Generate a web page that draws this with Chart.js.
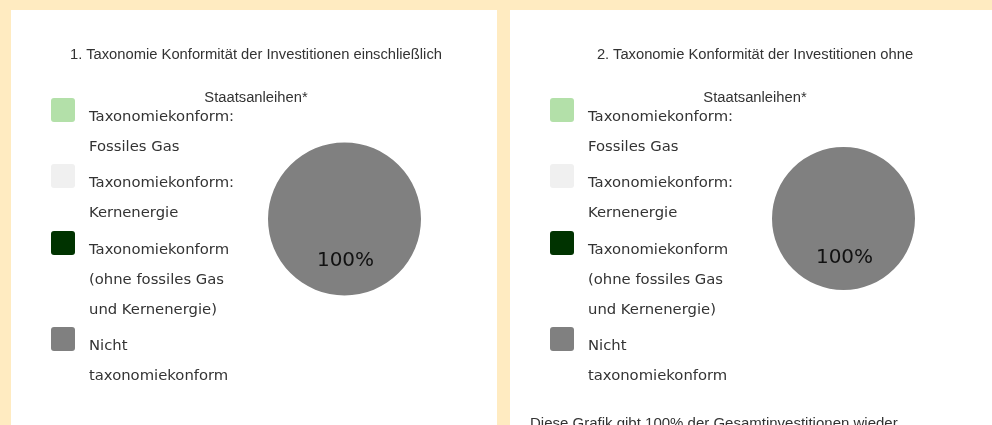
<!DOCTYPE html>
<html>
<head>
<meta charset="utf-8">
<script src="https://cdn.jsdelivr.net/npm/chart.js@4/dist/chart.umd.min.js"></script>
<style>
  html, body { margin: 0; padding: 0; }
  body { width: 992px; height: 425px; overflow: hidden; background: #ffebc1; position: relative; }
  .panel { position: absolute; top: 10px; width: 486px; height: 440px; background: #ffffff; }
  .panel canvas { position: absolute; left: 0; top: 0; }
  .title { position: absolute; left: 2px; top: 23px; width: 100%; text-align: center;
           font: 14.75px "Liberation Sans", Arial, sans-serif; line-height: 43px; color: #333; }
  .legend { position: absolute; left: 40px; top: 88px; font: 14.8px "DejaVu Sans", sans-serif; color: #333; }
  .item { position: relative; padding-left: 38px; padding-top: 3px; margin-bottom: 3.3px; line-height: 30px; }
  .box { position: absolute; left: 0; top: 0; width: 24px; height: 24px; border-radius: 3px; }
  .note { position: absolute; left: 20px; top: 403px; font: 15px "Liberation Sans", Arial, sans-serif;
          line-height: 20px; color: #333; white-space: nowrap; }
</style>
</head>
<body>
<div class="panel" id="p1" style="left:11px;">
  <canvas id="c1" width="486" height="415"></canvas>
  <div class="title" id="t1"></div>
  <div class="legend" id="l1"></div>
</div>
<div class="panel" id="p2" style="left:510px;">
  <canvas id="c2" width="486" height="415"></canvas>
  <div class="title" id="t2"></div>
  <div class="legend" id="l2"></div>
  <div class="note" id="n2"></div>
</div>
<script>
// ---- data ----
const categoryLines = [
  ["Taxonomiekonform:", "Fossiles Gas"],
  ["Taxonomiekonform:", "Kernenergie"],
  ["Taxonomiekonform", "(ohne fossiles Gas", "und Kernenergie)"],
  ["Nicht", "taxonomiekonform"]
];
const categoryColors = ["#b3e0a9", "#f0f0f0", "#003300", "#808080"];
const valuesInclSovereign = [0, 0, 0, 100];
const valuesExclSovereign = [0, 0, 0, 100];
const title1Lines = ["1. Taxonomie Konformität der Investitionen einschließlich", "Staatsanleihen*"];
const title2Lines = ["2. Taxonomie Konformität der Investitionen ohne", "Staatsanleihen*"];
const footnote = "Diese Grafik gibt 100% der Gesamtinvestitionen wieder";

// ---- helpers ----
function buildTitle(el, lines) {
  el.innerHTML = lines.map(l => '<div>' + l + '</div>').join('');
}
function buildLegend(el) {
  el.innerHTML = categoryLines.map((lines, i) =>
    '<div class="item"><span class="box" style="background:' + categoryColors[i] + '"></span>' +
    lines.map(l => '<div>' + l + '</div>').join('') + '</div>').join('');
}

const pctLabel = {
  id: 'pctLabel',
  afterDatasetsDraw(chart) {
    const ctx = chart.ctx;
    const meta = chart.getDatasetMeta(0);
    const data = chart.data.datasets[0].data;
    ctx.save();
    ctx.font = '20px "DejaVu Sans", sans-serif';
    ctx.fillStyle = '#111';
    ctx.textAlign = 'center';
    ctx.textBaseline = 'middle';
    meta.data.forEach((arc, i) => {
      if (data[i] > 0) {
        const p = arc.tooltipPosition();
        ctx.fillText(data[i] + '%', p.x + 1, p.y + 4);
      }
    });
    ctx.restore();
  }
};

function makePie(id, values, padding) {
  return new Chart(document.getElementById(id), {
    type: 'pie',
    data: {
      labels: categoryLines.map(l => l.join(' ')),
      datasets: [{ data: values, backgroundColor: categoryColors, borderWidth: 0 }]
    },
    options: {
      responsive: false,
      animation: false,
      layout: { padding: padding },
      plugins: { legend: { display: false }, tooltip: { enabled: false }, title: { display: false } }
    },
    plugins: [pctLabel]
  });
}

buildTitle(document.getElementById('t1'), title1Lines);
buildTitle(document.getElementById('t2'), title2Lines);
buildLegend(document.getElementById('l1'));
buildLegend(document.getElementById('l2'));
document.getElementById('n2').textContent = footnote;

makePie('c1', valuesInclSovereign, { left: 257, right: 76, top: 132.5, bottom: 129.5 });
makePie('c2', valuesExclSovereign, { left: 262, right: 81, top: 137, bottom: 135 });
</script>
</body>
</html>
